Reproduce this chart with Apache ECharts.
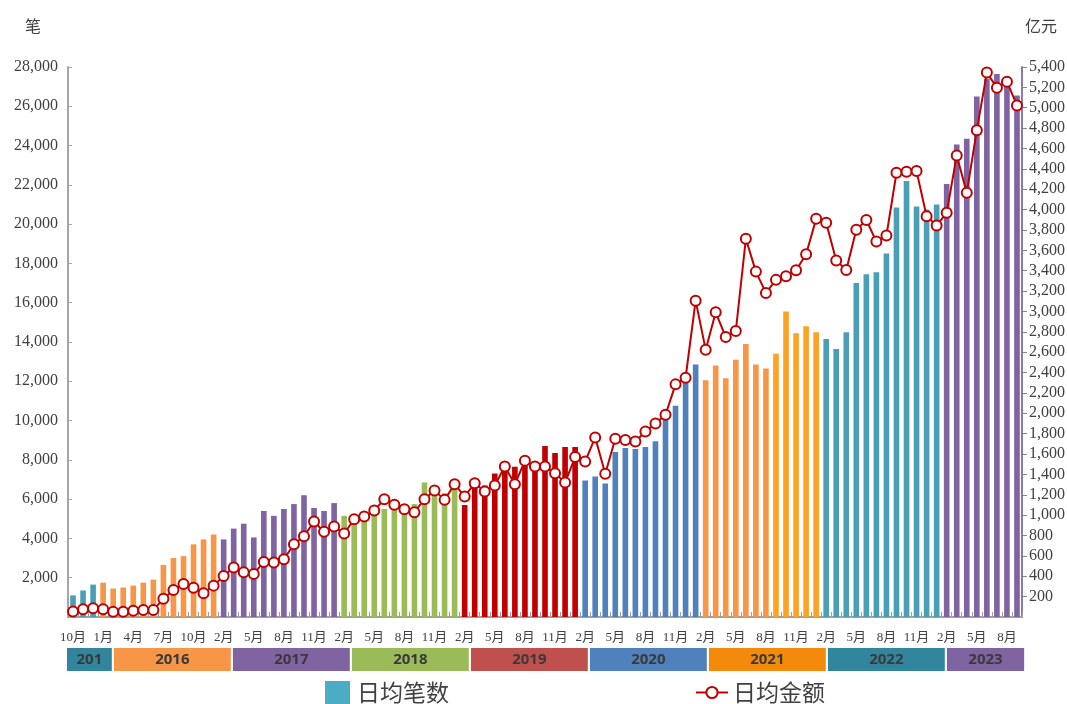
<!DOCTYPE html>
<html>
<head>
<meta charset="utf-8">
<script src="https://cdn.jsdelivr.net/npm/echarts@6/dist/echarts.min.js"></script>
<style>
  html, body { margin: 0; padding: 0; background: #fff; }
  #main { width: 1067px; height: 704px; }
</style>
</head>
<body>
<div id="main"></div>
<script>
// 月份（每3个显示一个）
const categories = [
  '10月', '11月', '12月',
  '1月', '2月', '3月', '4月', '5月', '6月', '7月', '8月', '9月', '10月', '11月', '12月',
  '2月', '3月', '4月', '5月', '6月', '7月', '8月', '9月', '10月', '11月', '12月', '1月',
  '2月', '3月', '4月', '5月', '6月', '7月', '8月', '9月', '10月', '11月', '12月', '1月',
  '2月', '3月', '4月', '5月', '6月', '7月', '8月', '9月', '10月', '11月', '12月', '1月',
  '2月', '3月', '4月', '5月', '6月', '7月', '8月', '9月', '10月', '11月', '12月', '1月',
  '2月', '3月', '4月', '5月', '6月', '7月', '8月', '9月', '10月', '11月', '12月', '1月',
  '2月', '3月', '4月', '5月', '6月', '7月', '8月', '9月', '10月', '11月', '12月', '1月',
  '2月', '3月', '4月', '5月', '6月', '7月', '8月', '9月'
];

// 日均笔数（笔）
const dailyCount = [
  1100, 1350, 1650,
  1750, 1450, 1500, 1600, 1750, 1900, 2650, 3000, 3100, 3700, 3950, 4200,
  3950, 4500, 4750, 4050, 5400, 5150, 5500, 5750, 6200, 5550, 5400, 5800,
  5150, 4950, 5050, 5250, 5500, 5450, 5350, 5750, 6850, 6400, 6300, 6600,
  5700, 6650, 6700, 7300, 7500, 7650, 7700, 7900, 8700, 8350, 8650, 8650,
  6950, 7150, 6800, 8400, 8600, 8550, 8650, 8950, 10050, 10750, 12000, 12850,
  12050, 12800, 12150, 13100, 13900, 12850, 12650, 13400, 15550, 14450, 14800, 14500,
  14150, 13650, 14500, 17000, 17450, 17550, 18500, 20850, 22200, 20900, 20750, 21000,
  22050, 24050, 24350, 26500, 27400, 27650, 27300, 26550
];

// 日均金额（亿元）
const dailyAmount = [
  55, 75, 85,
  75, 52, 52, 62, 68, 68, 180, 265, 325, 288, 233, 308,
  403, 485, 439, 423, 541, 534, 567, 714, 793, 937, 836, 888,
  819, 960, 986, 1045, 1157, 1101, 1059, 1029, 1157, 1242, 1150, 1304,
  1183, 1314, 1232, 1291, 1477, 1304, 1533, 1477, 1477, 1412, 1320, 1570,
  1527, 1763, 1406, 1750, 1737, 1723, 1822, 1900, 1986, 2284, 2349, 3106,
  2625, 2991, 2749, 2808, 3713, 3391, 3182, 3310, 3345, 3404, 3562, 3909,
  3870, 3500, 3408, 3801, 3898, 3686, 3745, 4362, 4371, 4378, 3935, 3844,
  3968, 4532, 4165, 4780, 5345, 5197, 5256, 5023
];

// 年份分组
const yearLabels = ['201', '2016', '2017', '2018', '2019', '2020', '2021', '2022', '2023'];
const yearCounts = [3, 12, 12, 12, 12, 12, 12, 12, 8];

const barColors = ['#4a9fb5', '#f79646', '#8064a2', '#9bbb59', '#c00000', '#4f81bd', '#f79646', '#4a9fb5', '#8064a2'];
const boxColors = ['#31859c', '#f79646', '#8064a2', '#9bbb59', '#c0504d', '#4f81bd', '#f38a0c', '#31859c', '#8064a2'];

const starts = [];
let acc = 0;
yearCounts.forEach(n => { starts.push(acc); acc += n; });
const total = acc;

function groupOf(i) {
  let k = 0;
  while (k + 1 < starts.length && i >= starts[k + 1]) k++;
  return k;
}

const barData = dailyCount.map((v, i) => {
  const k = groupOf(i);
  let c = barColors[k];
  // 2021年后几个月颜色偏黄
  if (k === 6 && i - starts[6] >= 7) c = '#fca323';
  return { value: v, itemStyle: { color: c } };
});

const serif = '"Liberation Serif", "Noto Sans CJK SC", serif';
const cjk = '"Noto Sans CJK SC", sans-serif';

const chart = echarts.init(document.getElementById('main'), null, { renderer: 'canvas' });

const option = {
  animation: false,
  backgroundColor: '#fff',
  grid: {
    left: 68,
    right: 45,
    top: 67,
    bottom: 87,
    containLabel: false,
    outerBoundsMode: 'none'
  },
  legend: [
    {
      data: [{ name: '日均笔数', icon: 'rect' }],
      left: 320,
      top: 676,
      itemWidth: 25,
      itemHeight: 23,
      itemGap: 0,
      textStyle: { fontSize: 23, color: '#404040', fontFamily: cjk, padding: [0, 0, 0, 2] }
    },
    {
      data: ['日均金额'],
      left: 690,
      top: 676,
      itemWidth: 32,
      itemHeight: 14,
      textStyle: { fontSize: 23, color: '#404040', fontFamily: cjk }
    }
  ],
  xAxis: {
    type: 'category',
    data: categories,
    boundaryGap: true,
    axisLine: { show: true, lineStyle: { color: '#a0a0a0', width: 2 } },
    axisTick: {
      show: true,
      inside: true,
      length: 5,
      interval: 0,
      lineStyle: { color: '#a0a0a0' }
    },
    axisLabel: {
      interval: 2,
      margin: 14,
      fontSize: 13,
      color: '#404040',
      fontFamily: serif
    },
    splitLine: { show: false }
  },
  yAxis: [
    {
      type: 'value',
      name: '笔',
      nameLocation: 'end',
      nameGap: 31,
      nameTextStyle: { fontSize: 16, color: '#404040', fontFamily: serif, align: 'right', padding: [0, 27, 0, 0] },
      min: 0,
      max: 28000,
      interval: 2000,
      axisLine: { show: true, lineStyle: { color: '#a6a6a6', width: 2 } },
      axisTick: { show: true, inside: true, length: 4, lineStyle: { color: '#a6a6a6' } },
      axisLabel: {
        showMinLabel: false,
        margin: 10,
        fontSize: 16,
        color: '#404040',
        fontFamily: serif,
        formatter: v => v.toLocaleString('en-US')
      },
      splitLine: { show: false }
    },
    {
      type: 'value',
      name: '亿元',
      nameLocation: 'end',
      nameGap: 31,
      nameTextStyle: { fontSize: 16, color: '#404040', fontFamily: serif, align: 'left', padding: [0, 0, 0, 3] },
      position: 'right',
      min: 0,
      max: 5400,
      interval: 200,
      axisLine: { show: true, lineStyle: { color: '#8c7bb0', width: 2 } },
      axisTick: { show: true, inside: false, length: 5, lineStyle: { color: '#8c7bb0' } },
      axisLabel: {
        showMinLabel: false,
        margin: 7,
        fontSize: 16,
        color: '#404040',
        fontFamily: serif,
        formatter: v => v.toLocaleString('en-US')
      },
      splitLine: { show: false }
    }
  ],
  series: [
    {
      name: '日均笔数',
      type: 'bar',
      yAxisIndex: 0,
      barWidth: '56%',
      itemStyle: { color: '#4bacc6' },
      data: barData,
      z: 2
    },
    {
      name: '日均金额',
      type: 'line',
      yAxisIndex: 1,
      data: dailyAmount,
      symbol: 'circle',
      symbolSize: 10,
      showSymbol: true,
      showAllSymbol: true,
      lineStyle: { color: '#c00000', width: 2 },
      itemStyle: { color: '#ffffff', borderColor: '#c00000', borderWidth: 2 },
      z: 5
    },
    {
      // 年份色块
      name: 'years',
      type: 'custom',
      silent: true,
      clip: false,
      yAxisIndex: 0,
      data: yearCounts.map((n, k) => [starts[k], starts[k] + n, 0]),
      encode: { x: [0, 1], y: 2 },
      renderItem: function (params, api) {
        const k = params.dataIndex;
        const band = api.size([1, 0])[0];
        const p = api.coord([0, 0]);
        const x0 = p[0] - band / 2;
        const endLimit = x0 + band * total + 4;
        const left = k === 0 ? x0 - 1 : x0 + band * (1.61 + 0.9875 * starts[k]);
        const right = Math.min(endLimit, x0 + band * (1.40 + 0.9875 * (starts[k] + yearCounts[k])));
        const top = p[1] + 31;
        return {
          type: 'group',
          children: [
            {
              type: 'rect',
              shape: { x: left, y: top, width: right - left, height: 23 },
              style: { fill: boxColors[k] }
            },
            {
              type: 'text',
              style: {
                text: yearLabels[k],
                x: (left + right) / 2,
                y: top + 12,
                align: 'center',
                verticalAlign: 'middle',
                fill: '#3a3a3a',
                fontSize: 15,
                fontWeight: 'bold',
                fontFamily: '"Noto Sans", sans-serif'
              }
            }
          ]
        };
      },
      z: 1
    }
  ]
};

chart.setOption(option);
window.addEventListener('resize', () => chart.resize());
</script>
</body>
</html>
